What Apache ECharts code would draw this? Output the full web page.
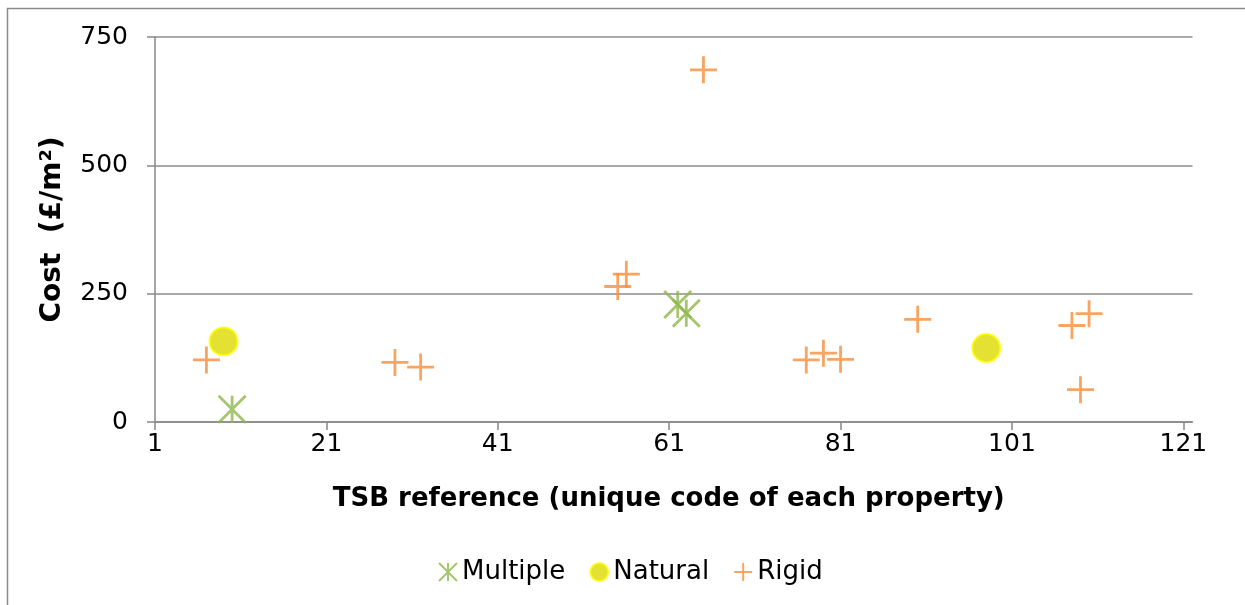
<!DOCTYPE html>
<html><head><meta charset="utf-8">
<script src="https://cdn.jsdelivr.net/npm/echarts@6/dist/echarts.min.js"></script>
<style>html,body{margin:0;padding:0;background:#fff}#c{width:1245px;height:605px}</style>
</head><body><div id="c"></div>
<script>
// Data
const multipleX = [10, 62, 63];
const multipleY = [25, 229, 212];
const naturalX = [9, 98];
const naturalY = [157, 144];
const rigidX = [7, 29, 32, 55, 56, 65, 77, 79, 81, 90, 108, 109, 110];
const rigidY = [121, 116, 107, 264, 288, 686, 121, 134, 122, 200, 188, 63, 211];
const xTicks = [1, 21, 41, 61, 81, 101, 121];
const yTicks = [0, 250, 500, 750];

const pair = (xs, ys) => xs.map((x, i) => [x, ys[i]]);
const FONT = 'DejaVu Sans';
const starPath = 'path://M-1,-1L1,1M-1,1L1,-1M0,-1L0,1';
const plusPath = 'path://M0,-1L0,1M-1,0L1,0';

const chart = echarts.init(document.getElementById('c'), null, {renderer: 'canvas'});
chart.setOption({
  animation: false,
  backgroundColor: '#fff',
  graphic: [{
    type: 'rect', silent: true,
    shape: {x: 7.5, y: 8.5, width: 1400, height: 800},
    style: {fill: 'none', stroke: '#8a8a8a', lineWidth: 1.5}
  }],
  grid: {left: 155, right: 52.5, top: 37, bottom: 183, containLabel: false},
  xAxis: {
    type: 'value', min: 1, max: 122.07, interval: 20,
    name: 'TSB reference (unique code of each property)',
    nameLocation: 'middle', nameGap: 64,
    nameTextStyle: {fontFamily: FONT, fontSize: 26, fontWeight: 'bold', color: '#000', padding: [0, 10, 0, 0]},
    axisLine: {show: true, lineStyle: {color: '#888', width: 1.5}},
    axisTick: {show: true, length: 8, inside: false, customValues: xTicks, lineStyle: {color: '#888', width: 1.5}},
    axisLabel: {customValues: xTicks, fontFamily: FONT, fontSize: 25, color: '#000', margin: 10},
    splitLine: {show: false}
  },
  yAxis: {
    type: 'value', min: 0, max: 750, interval: 250,
    name: 'Cost  (£/m²)',
    nameLocation: 'middle', nameGap: 88, nameRotate: 90,
    nameTextStyle: {fontFamily: FONT, fontSize: 28, fontWeight: 'bold', color: '#000'},
    axisLine: {show: true, lineStyle: {color: '#888', width: 1.5}},
    axisTick: {show: true, length: 8, inside: false, lineStyle: {color: '#888', width: 1.5}},
    axisLabel: {customValues: yTicks, fontFamily: FONT, fontSize: 25, color: '#000', margin: 27},
    splitLine: {show: true, lineStyle: {color: '#8c8c8c', width: 1.5}}
  },
  legend: {
    bottom: 15, left: 433, itemGap: 24, itemWidth: 18, itemHeight: 18,
    textStyle: {fontFamily: FONT, fontSize: 26, color: '#000'},
    data: ['Multiple', 'Natural', 'Rigid']
  },
  series: [
    {
      name: 'Multiple', type: 'scatter', data: pair(multipleX, multipleY),
      symbol: starPath, symbolSize: 27,
      itemStyle: {color: 'rgba(0,0,0,0)', borderColor: '#8FB64A', borderWidth: 2.8}
    },
    {
      name: 'Natural', type: 'scatter', data: pair(naturalX, naturalY),
      symbol: 'circle', symbolSize: 28,
      itemStyle: {color: '#DEDA00', borderColor: '#FFFF00', borderWidth: 2}
    },
    {
      name: 'Rigid', type: 'scatter', data: pair(rigidX, rigidY),
      symbol: plusPath, symbolSize: 27,
      itemStyle: {color: 'rgba(0,0,0,0)', borderColor: '#F78D3A', borderWidth: 2.8}
    }
  ]
});
</script></body></html>
